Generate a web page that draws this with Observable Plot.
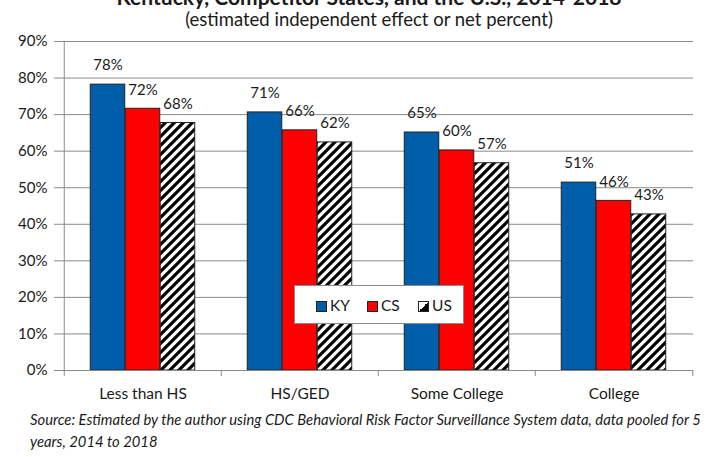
<!DOCTYPE html>
<html>
<head>
<meta charset="utf-8">
<script src="https://cdn.jsdelivr.net/npm/d3@7"></script>
<script src="https://cdn.jsdelivr.net/npm/@observablehq/plot@0.6"></script>
<style>
  html, body { margin: 0; padding: 0; background: #fff; }
  body { width: 710px; height: 457px; overflow: hidden; position: relative; font-family: Lato, "Open Sans", sans-serif; color: #1a1a1a; }
  .title { position: absolute; left: 0; width: 738px; text-align: center; top: -15px; line-height: 24px; font-size: 21px; font-weight: bold; white-space: nowrap; }
  .subtitle { position: absolute; left: 0; width: 738px; text-align: center; top: 8px; line-height: 22px; font-size: 18.5px; white-space: nowrap; }
  #chart { position: absolute; left: 0; top: 0; }
  .caption { position: absolute; left: 30px; top: 408px; line-height: 22px; font-size: 14.8px; font-style: italic; white-space: nowrap; }
  .legend { position: absolute; left: 294px; top: 285px; width: 170px; height: 39px; border: 1px solid #8a8a8a; background: #fff; box-sizing: border-box; }
  .legend .item { position: absolute; top: 0; line-height: 38px; font-size: 15.5px; white-space: nowrap; }
  .legend .sw { display: inline-block; width: 9px; height: 9px; border: 1px solid #222; vertical-align: middle; margin-right: 3px; position: relative; top: -1px; }
</style>
</head>
<body>
<div class="title">Kentucky, Competitor States, and the U.S., 2014-2018</div>
<div class="subtitle">(estimated independent effect or net percent)</div>
<div id="chart"></div>
<div class="legend" id="legend"></div>
<div class="caption">Source: Estimated by the author using CDC Behavioral Risk Factor Surveillance System data, data pooled for 5<br>years, 2014 to 2018</div>
<script>
// ---- data ----
const categories = ["Less than HS", "HS/GED", "Some College", "College"];
const seriesNames = ["KY", "CS", "US"];
const kyValues = [78.2, 70.6, 65.1, 51.4];
const csValues = [71.6, 65.7, 60.2, 46.4];
const usValues = [67.7, 62.4, 56.7, 42.7];
const yTicks = [0, 10, 20, 30, 40, 50, 60, 70, 80, 90];

const seriesValues = {KY: kyValues, CS: csValues, US: usValues};
const seriesFill = {KY: "#005DAA", CS: "#FF0000", US: "url(#hatch)"};

const rows = seriesNames.flatMap(s => categories.map((c, i) => ({series: s, category: c, value: seriesValues[s][i]})));

// ---- layout ----
const W = 710, H = 408;
const mL = 63, mR = 17, mT = 41, mB = 38;
const bw = (W - mL - mR) / categories.length; // band width
const barW = 35;
const groupStart = (bw - 3 * barW) / 2;
const gridColor = "#8a8a8a";

const barMarks = seriesNames.map((s, k) => Plot.barY(rows.filter(d => d.series === s), {
  x: "category", y: "value",
  fill: seriesFill[s], stroke: "#222", strokeWidth: 1,
  insetLeft: groupStart + k * barW,
  insetRight: bw - groupStart - (k + 1) * barW
}));

const labelMarks = seriesNames.map((s, k) => Plot.text(rows.filter(d => d.series === s), {
  x: "category", y: "value",
  text: d => Math.round(d.value) + "%",
  dx: (k - 1) * barW, dy: -19,
  lineAnchor: "middle", textAnchor: "middle",
  fontSize: 15, fill: "#1a1a1a"
}));

const chart = Plot.plot({
  width: W, height: H,
  marginLeft: mL, marginRight: mR, marginTop: mT, marginBottom: mB,
  style: {fontFamily: "Lato, 'Open Sans', sans-serif", fontSize: "15px", color: "#1a1a1a", background: "transparent"},
  x: {domain: categories, padding: 0, label: null},
  y: {domain: [0, 90], label: null},
  marks: [
    Plot.gridY(yTicks, {stroke: gridColor, strokeOpacity: 1, strokeWidth: 1}),
    Plot.axisY(yTicks, {tickFormat: d => d + "%", tickSize: 9, tickPadding: 7, stroke: gridColor, fill: "#1a1a1a", fontSize: 15, label: null}),
    Plot.axisX({tickSize: 0, tickPadding: 17, fontSize: 15.5, fill: "#1a1a1a", label: null}),
    ...barMarks,
    Plot.ruleY([0], {stroke: gridColor, strokeWidth: 1}),
    // y axis line
    Plot.ruleX([categories[0]], {x: d => d, dx: -bw / 2, stroke: gridColor, strokeWidth: 1}),
    // category boundary ticks
    Plot.ruleX(categories, {x: d => d, dx: -bw / 2, y1: 0, y2: 0, insetBottom: -6, stroke: gridColor}),
    Plot.ruleX([categories[categories.length - 1]], {x: d => d, dx: bw / 2, y1: 0, y2: 0, insetBottom: -6, stroke: gridColor}),
    ...labelMarks
  ]
});

// hatch pattern for US bars
const svg = d3.select(chart);
const defs = svg.insert("defs", ":first-child");
const pat = defs.append("pattern").attr("id", "hatch").attr("patternUnits", "userSpaceOnUse").attr("width", 9).attr("height", 9);
pat.append("rect").attr("width", 9).attr("height", 9).attr("fill", "#fff");
pat.append("path").attr("d", "M-2.25,2.25 L2.25,-2.25 M0,9 L9,0 M6.75,11.25 L11.25,6.75").attr("stroke", "#000").attr("stroke-width", 3.2);

document.getElementById("chart").appendChild(chart);

// legend
const legendPos = {KY: 21, CS: 72, US: 123};
const leg = document.getElementById("legend");
seriesNames.forEach(s => {
  const it = document.createElement("div");
  it.className = "item";
  it.style.left = legendPos[s] + "px";
  const sw = document.createElement("span");
  sw.className = "sw";
  if (s === "US") sw.style.background = "linear-gradient(135deg, #fff 0 50%, #000 50% 100%)";
  else sw.style.background = seriesFill[s];
  it.appendChild(sw);
  it.appendChild(document.createTextNode(s));
  leg.appendChild(it);
});
</script>
</body>
</html>
